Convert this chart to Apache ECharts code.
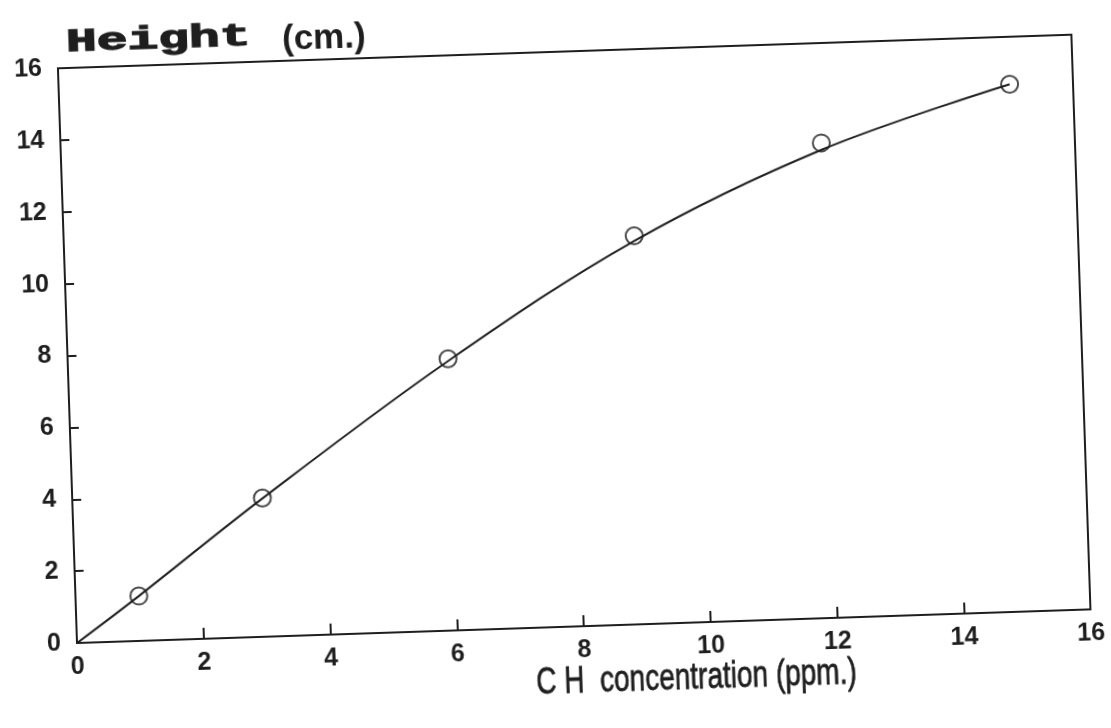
<!DOCTYPE html>
<html>
<head>
<meta charset="utf-8">
<script src="https://cdn.jsdelivr.net/npm/echarts@6/dist/echarts.min.js"></script>
<style>
  html, body { margin: 0; padding: 0; background: #ffffff; overflow: hidden; }
  #chart { width: 1111px; height: 728px; transform: rotate(-1.9deg); transform-origin: 77px 643px; }
</style>
</head>
<body>
<div id="chart"></div>
<script>
// Measured points (circles)
const concentration = [1, 3, 6, 9, 12, 15];
const heightCm = [1.25, 3.86, 7.56, 10.81, 13.22, 14.68];
// Fitted curve
const curveX = [0, 1, 3, 6, 9, 12, 15];
const curveY = [0, 1.25, 3.85, 7.5, 10.67, 13.03, 14.68];
// Axis setup
const axisMin = 0, axisMax = 16, axisStep = 2;
const yTitleMain = 'Height';
const yTitleUnit = '(cm.)';
const xTitle = 'C H  concentration (ppm.)';

const ink = '#1e1e1e';
const chart = echarts.init(document.getElementById('chart'), null, { renderer: 'canvas' });

const pts = concentration.map((x, i) => [x, heightCm[i]]);
const curve = curveX.map((x, i) => [x, curveY[i]]);

const labelStyle = { color: ink, fontFamily: 'Liberation Sans, Arial, sans-serif', fontWeight: 'bold', fontSize: 25 };

chart.setOption({
  backgroundColor: '#ffffff',
  animation: false,
  grid: { left: 77, top: 68, width: 1014, height: 575, show: true, borderColor: ink, borderWidth: 2, backgroundColor: 'transparent' },
  xAxis: {
    type: 'value', min: axisMin, max: axisMax, interval: axisStep,
    axisLine: { show: true, lineStyle: { color: ink, width: 2 } },
    axisTick: { show: true, inside: true, length: 11, lineStyle: { color: ink, width: 2 } },
    axisLabel: Object.assign({ margin: 12, showMinLabel: true, showMaxLabel: true }, labelStyle),
    splitLine: { show: false }
  },
  yAxis: {
    type: 'value', min: axisMin, max: axisMax, interval: axisStep,
    axisLine: { show: true, lineStyle: { color: ink, width: 2 } },
    axisTick: { show: true, inside: true, length: 9, lineStyle: { color: ink, width: 2 } },
    axisLabel: Object.assign({ margin: 16, showMinLabel: true, showMaxLabel: true }, labelStyle),
    splitLine: { show: false }
  },
  graphic: [
    { type: 'text', x: 86, y: 59, scaleX: 1.6, style: { text: yTitleMain, fill: ink, stroke: ink, lineWidth: 1.3, fontFamily: 'Liberation Mono, Courier New, monospace', fontWeight: 'bold', fontSize: 32, align: 'left', verticalAlign: 'bottom' } },
    { type: 'text', x: 302, y: 65, style: { text: yTitleUnit, fill: ink, fontFamily: 'Liberation Sans, Arial, sans-serif', fontWeight: 'bold', fontSize: 35, align: 'left', verticalAlign: 'bottom' } },
    { type: 'text', x: 695, y: 699, scaleY: 1.35, style: { text: xTitle, fill: ink, stroke: ink, lineWidth: 0.6, fontFamily: 'Liberation Sans, Arial, sans-serif', fontSize: 28, align: 'center', verticalAlign: 'middle' } }
  ],
  series: [
    {
      type: 'line', data: curve, smooth: 0.35, showSymbol: false, symbol: 'none',
      lineStyle: { color: ink, width: 2 }, z: 2
    },
    {
      type: 'scatter', data: pts, symbol: 'circle', symbolSize: 17,
      itemStyle: { color: 'rgba(255,255,255,0)', borderColor: ink, borderWidth: 2 }, z: 3
    }
  ]
});
</script>
</body>
</html>
